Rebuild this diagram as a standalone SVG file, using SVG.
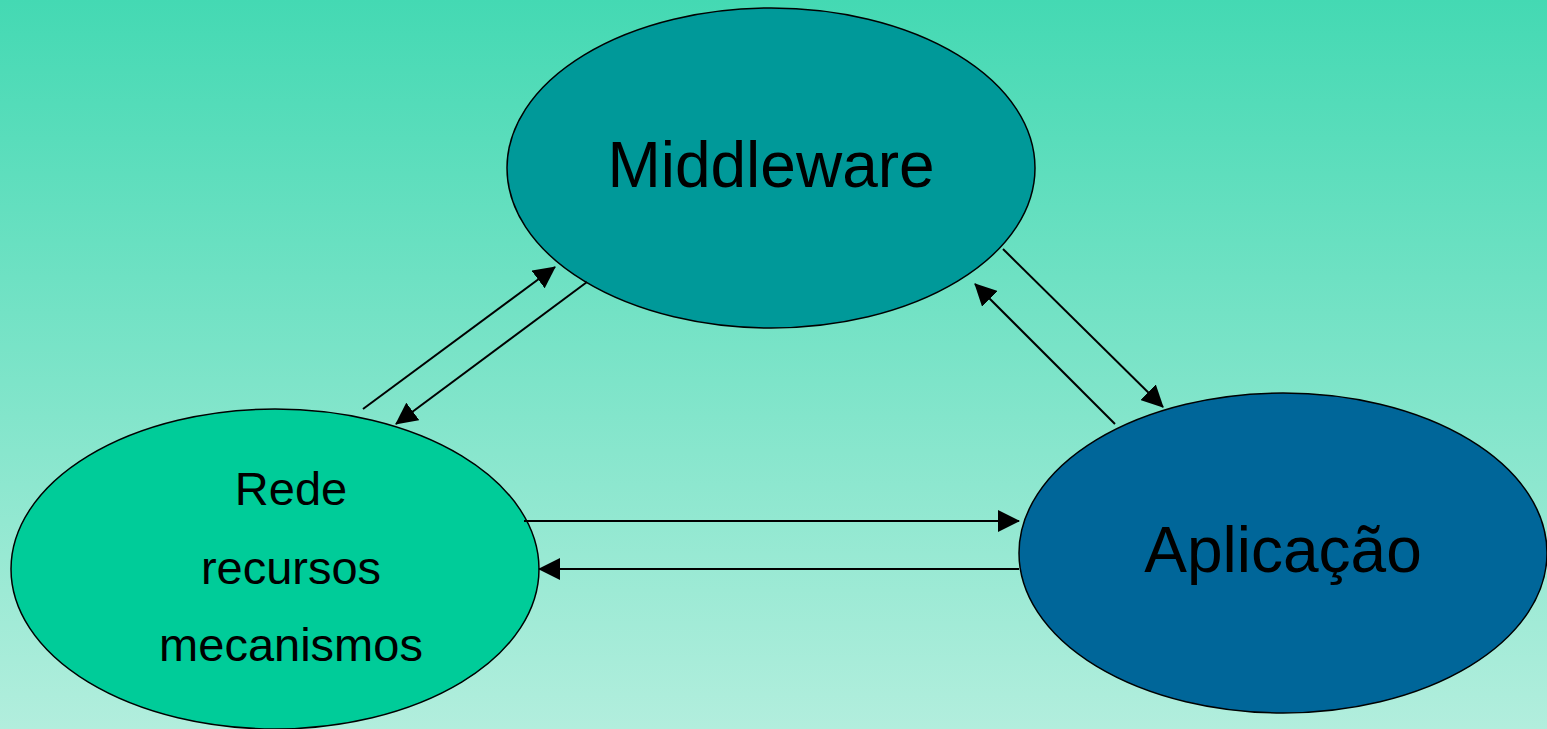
<svg xmlns="http://www.w3.org/2000/svg" width="1547" height="729" viewBox="0 0 1547 729">
<defs>
<linearGradient id="bg" x1="0" y1="0" x2="0" y2="1">
<stop offset="0" stop-color="#44D9B3"/>
<stop offset="1" stop-color="#B2EEDD"/>
</linearGradient>
<marker id="ah" markerUnits="userSpaceOnUse" markerWidth="22" markerHeight="22" viewBox="0 0 22 22" refX="21" refY="11" orient="auto">
<path d="M0,0 L22,11 L0,22 Z" fill="#000"/>
</marker>
<style>
.node ellipse{stroke:#000;stroke-width:1.5}
.lbl{font-family:"Liberation Sans",Arial,sans-serif;fill:#000;text-anchor:middle}
.conn line{stroke:#000;stroke-width:2;marker-end:url(#ah)}
</style>
</defs>
<rect width="1547" height="729" fill="url(#bg)"/>
<g id="middleware" class="node">
<ellipse cx="771" cy="168" rx="264" ry="160" fill="#009999"/>
<text class="lbl" x="771" y="187" font-size="64">Middleware</text>
</g>
<g id="rede" class="node">
<ellipse cx="275" cy="569" rx="264" ry="160" fill="#00CC99"/>
<text class="lbl" x="291" y="505" font-size="47">Rede</text>
<text class="lbl" x="291" y="584" font-size="47">recursos</text>
<text class="lbl" x="291" y="661" font-size="47">mecanismos</text>
</g>
<g id="aplicacao" class="node">
<ellipse cx="1283" cy="553" rx="264" ry="160" fill="#006699"/>
<text class="lbl" x="1283" y="572" font-size="64">Aplicação</text>
</g>
<g id="connectors" class="conn">
<line x1="363" y1="409" x2="555" y2="267"/>
<line x1="587" y1="282" x2="396" y2="424"/>
<line x1="1003" y1="249" x2="1163" y2="407"/>
<line x1="1115" y1="424" x2="975" y2="284"/>
<line x1="524" y1="521" x2="1019" y2="521"/>
<line x1="1019" y1="569" x2="539" y2="569"/>
</g>
</svg>
